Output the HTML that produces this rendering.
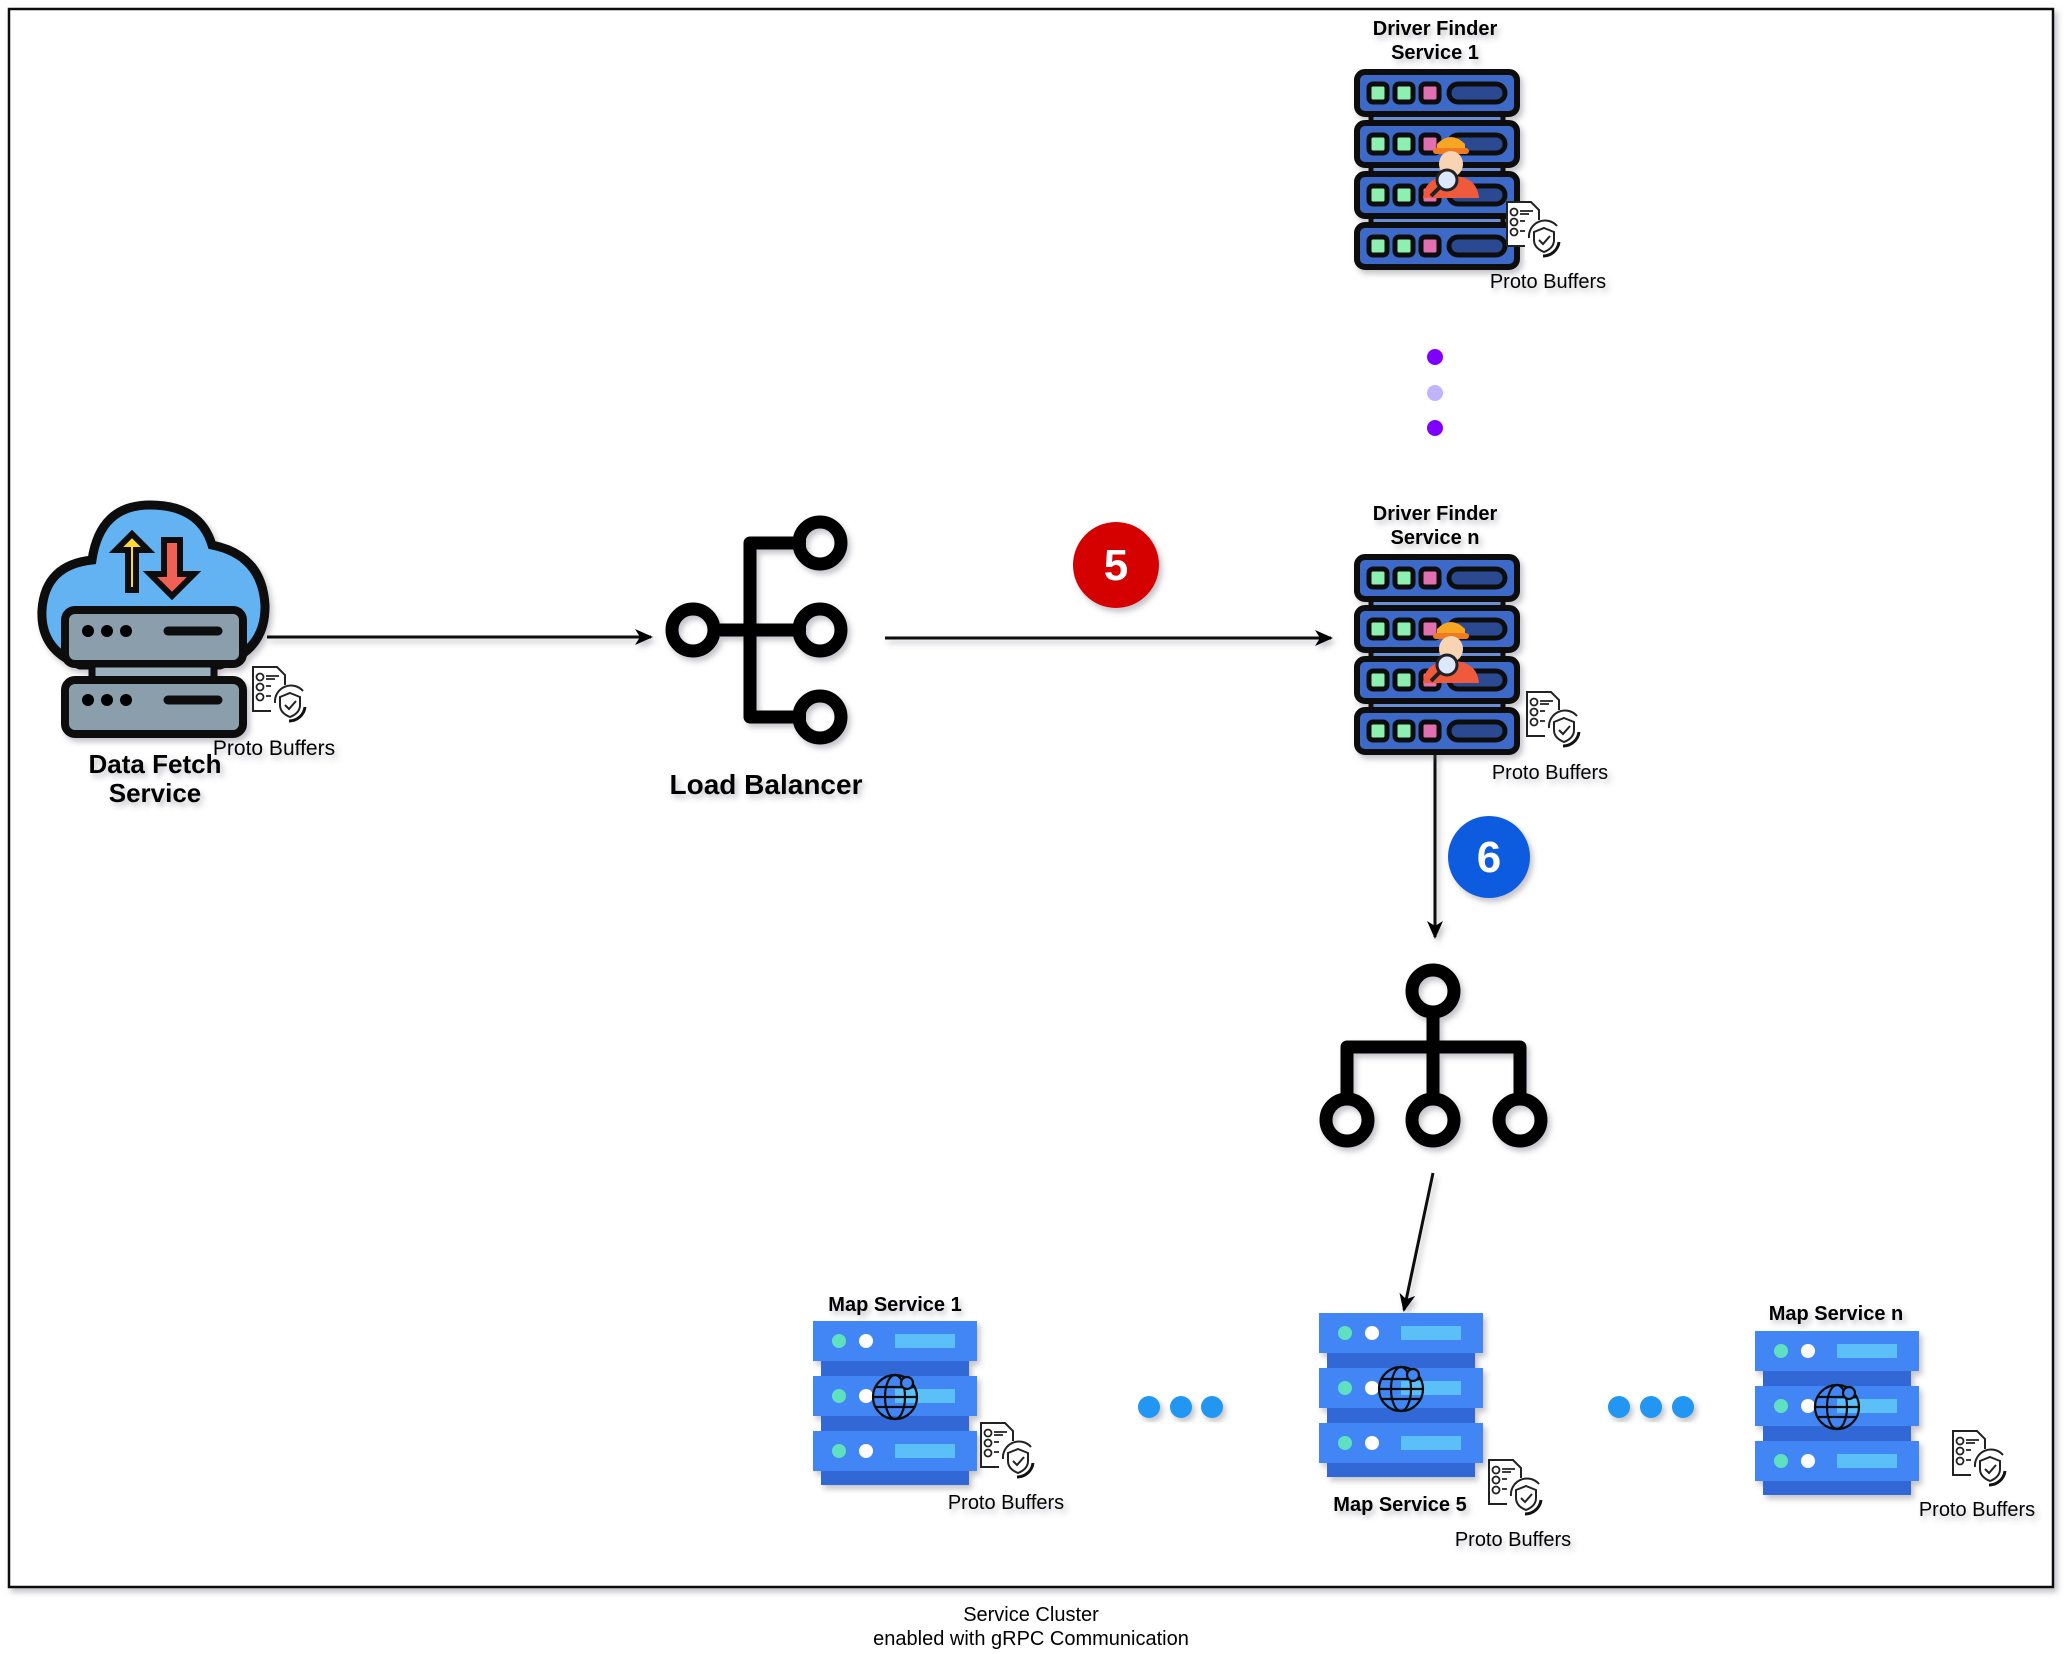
<!DOCTYPE html>
<html><head><meta charset="utf-8"><style>
html,body{margin:0;padding:0;background:#fff}
svg{display:block}
text{font-family:"Liberation Sans",sans-serif}
</style></head><body>
<svg width="2066" height="1654" viewBox="0 0 2066 1654" xmlns="http://www.w3.org/2000/svg">
<defs>
<filter id="sh" x="-20%" y="-20%" width="140%" height="140%"><feDropShadow dx="3" dy="4" stdDeviation="3" flood-color="#556" flood-opacity="0.35"/></filter>
<filter id="shl" filterUnits="userSpaceOnUse" x="0" y="0" width="2066" height="1654"><feDropShadow dx="3" dy="4" stdDeviation="3" flood-color="#556" flood-opacity="0.35"/></filter>
<marker id="ah" markerWidth="18" markerHeight="16" refX="16" refY="8" orient="auto" markerUnits="userSpaceOnUse"><path d="M0,0 L18,8 L0,16 L5,8 z" fill="#000"/></marker>
<g id="unit">
<rect x="0" y="0" width="160" height="42" rx="8" fill="#3d6ac9" stroke="#111" stroke-width="6"/>
<rect x="12" y="12" width="18" height="18" rx="4" fill="#8ef0b0" stroke="#111" stroke-width="5"/>
<rect x="38" y="12" width="18" height="18" rx="4" fill="#8ef0b0" stroke="#111" stroke-width="5"/>
<rect x="64" y="12" width="18" height="18" rx="4" fill="#e070b0" stroke="#111" stroke-width="5"/>
<rect x="92" y="12" width="56" height="18" rx="9" fill="#2a4a90" stroke="#111" stroke-width="5"/>
</g>
<g id="dserver">
<rect x="14" y="40" width="132" height="120" fill="#6a8fd8" stroke="#111" stroke-width="5"/>
<use href="#unit" x="0" y="0"/><use href="#unit" x="0" y="51"/><use href="#unit" x="0" y="102"/><use href="#unit" x="0" y="153"/>
<g transform="translate(62,64)">
<path d="M18,8 Q32,-6 46,8 L46,16 L18,16 z" fill="#f6a623"/>
<rect x="14" y="12" width="36" height="6" rx="3" fill="#f07a20"/>
<ellipse cx="32" cy="28" rx="12" ry="13" fill="#f8d4b4"/>
<path d="M4,62 Q6,40 32,40 Q58,40 60,62 z" fill="#ef5a3c"/>
<circle cx="28" cy="44" r="10" fill="#dbe8ff" stroke="#222" stroke-width="3"/>
<line x1="21" y1="51" x2="12" y2="60" stroke="#222" stroke-width="4"/>
</g>
</g>
<g id="munit">
<rect x="0" y="0" width="164" height="40" fill="#4285f4"/>
<circle cx="26" cy="20" r="7" fill="#5ee0c0"/>
<circle cx="53" cy="20" r="7" fill="#fff"/>
<rect x="82" y="13" width="60" height="14" fill="#5bc0f8"/>
</g>
<g id="mserver" filter="url(#sh)">
<rect x="8" y="36" width="148" height="128" fill="#3367d6"/>
<use href="#munit" y="0"/><use href="#munit" y="55"/><use href="#munit" y="110"/>
<g transform="translate(82,76)" fill="none" stroke="#111" stroke-width="2.2">
<circle r="22"/><ellipse rx="10" ry="22"/><line x1="-22" y1="0" x2="22" y2="0"/>
<path d="M-19,-10 H19 M-19,10 H19"/><circle cx="12" cy="-14" r="6" fill="#4285f4"/>
</g>
</g>
<g id="proto">
<path d="M0,0 H24 L32,8 V44 H0 z" fill="#fff" stroke="#222" stroke-width="2"/>
<g fill="none" stroke="#222" stroke-width="1.8">
<circle cx="7" cy="10" r="3.5"/><circle cx="7" cy="20" r="3.5"/><circle cx="7" cy="30" r="3.5"/>
<path d="M13,9 H26 M13,12 H22 M13,19 H26 M13,29 H22"/>
</g>
<rect x="18" y="18" width="38" height="40" fill="#fff"/>
<path d="M22,36 A16,16 0 0 1 50,24" fill="none" stroke="#222" stroke-width="2"/>
<path d="M52,40 A16,16 0 0 1 36,54" fill="none" stroke="#111" stroke-width="3"/>
<path d="M37,26 L47,30 V38 Q47,46 37,50 Q27,46 27,38 V30 z" fill="#fff" stroke="#222" stroke-width="2"/>
<path d="M32,38 L36,42 L43,34" fill="none" stroke="#222" stroke-width="2"/>
</g>
</defs>

<rect x="9" y="9" width="2044" height="1578" fill="#fff" stroke="#111" stroke-width="2.5" filter="url(#sh)"/>

<g filter="url(#sh)">
<path d="M80,665 Q40,650 42,610 Q45,565 92,560 Q100,505 150,505 Q200,505 212,545 Q262,555 265,605 Q266,650 220,665 z" fill="#63b3f3" stroke="#111" stroke-width="9"/>
<path d="M128,590 V550 H116 L132,534 L148,550 H136 V590 z" fill="#fdd835" stroke="#111" stroke-width="6"/>
<path d="M164,540 H180 V574 H194 L172,596 L150,574 H164 z" fill="#f06055" stroke="#111" stroke-width="6"/>
<rect x="65" y="610" width="178" height="54" rx="10" fill="#8a9eac" stroke="#111" stroke-width="8"/>
<rect x="92" y="664" width="122" height="30" fill="#9bb0bd" stroke="#111" stroke-width="7"/>
<rect x="65" y="680" width="178" height="54" rx="10" fill="#8a9eac" stroke="#111" stroke-width="8"/>
<circle cx="88" cy="631" r="6"/><circle cx="107" cy="631" r="6"/><circle cx="126" cy="631" r="6"/>
<line x1="168" y1="631" x2="218" y2="631" stroke="#111" stroke-width="9" stroke-linecap="round"/>
<circle cx="88" cy="700" r="6"/><circle cx="107" cy="700" r="6"/><circle cx="126" cy="700" r="6"/>
<line x1="168" y1="700" x2="218" y2="700" stroke="#111" stroke-width="9" stroke-linecap="round"/>
</g>
<use href="#proto" x="253" y="667"/>
<g filter="url(#sh)">
<text x="155" y="773" text-anchor="middle" font-size="26" font-weight="bold">Data Fetch</text>
<text x="155" y="802" text-anchor="middle" font-size="26" font-weight="bold">Service</text>
<text x="274" y="755" text-anchor="middle" font-size="21">Proto Buffers</text>
</g>

<g filter="url(#shl)" stroke="#111" stroke-width="3" fill="none">
<line x1="267" y1="637" x2="651" y2="637" marker-end="url(#ah)"/>
<line x1="885" y1="638" x2="1331" y2="638" marker-end="url(#ah)"/>
<line x1="1435" y1="753" x2="1435" y2="937" marker-end="url(#ah)"/>
<line x1="1433" y1="1173" x2="1404" y2="1310" marker-end="url(#ah)"/>
</g>

<g fill="none" stroke="#000" stroke-width="13" filter="url(#sh)" stroke-linejoin="round">
<path d="M806,543 H750 V717 H806 M720,630 H806"/>
<circle cx="693" cy="630" r="21"/>
<circle cx="820" cy="543" r="21"/>
<circle cx="820" cy="630" r="21"/>
<circle cx="820" cy="717" r="21"/>
</g>
<text x="766" y="794" text-anchor="middle" font-size="28" font-weight="bold" font-family="'DejaVu Sans',sans-serif" filter="url(#sh)">Load Balancer</text>

<g filter="url(#sh)">
<circle cx="1116" cy="565" r="43" fill="#d50000"/>
<text x="1116" y="580" text-anchor="middle" font-size="44" font-weight="bold" fill="#fff">5</text>
</g>

<g filter="url(#sh)">
<text x="1435" y="35" text-anchor="middle" font-size="20" font-weight="bold">Driver Finder</text>
<text x="1435" y="59" text-anchor="middle" font-size="20" font-weight="bold">Service 1</text>
</g>
<g filter="url(#sh)"><use href="#dserver" x="1357" y="72"/></g>
<use href="#proto" x="1507" y="202"/>
<text x="1548" y="288" text-anchor="middle" font-size="20" filter="url(#sh)">Proto Buffers</text>

<circle cx="1435" cy="357" r="8" fill="#7f00ff"/>
<circle cx="1435" cy="393" r="8" fill="#c2b3ff"/>
<circle cx="1435" cy="428" r="8" fill="#7f00ff"/>

<g filter="url(#sh)">
<text x="1435" y="520" text-anchor="middle" font-size="20" font-weight="bold">Driver Finder</text>
<text x="1435" y="544" text-anchor="middle" font-size="20" font-weight="bold">Service n</text>
</g>
<g filter="url(#sh)"><use href="#dserver" x="1357" y="557"/></g>
<use href="#proto" x="1527" y="692"/>
<text x="1550" y="779" text-anchor="middle" font-size="20" filter="url(#sh)">Proto Buffers</text>

<g filter="url(#sh)">
<circle cx="1489" cy="857" r="41" fill="#0a5ce0"/>
<text x="1489" y="872" text-anchor="middle" font-size="44" font-weight="bold" fill="#fff">6</text>
</g>

<g fill="none" stroke="#000" stroke-width="13" filter="url(#sh)" stroke-linejoin="round">
<path d="M1347,1104 V1047 H1520 V1104 M1433,1012 V1104"/>
<circle cx="1433" cy="991" r="21"/>
<circle cx="1347" cy="1120" r="21"/>
<circle cx="1433" cy="1120" r="21"/>
<circle cx="1520" cy="1120" r="21"/>
</g>

<text x="895" y="1311" text-anchor="middle" font-size="20" font-weight="bold" filter="url(#sh)">Map Service 1</text>
<use href="#mserver" x="813" y="1321"/>
<use href="#proto" x="981" y="1423"/>
<text x="1006" y="1509" text-anchor="middle" font-size="20" filter="url(#sh)">Proto Buffers</text>

<use href="#mserver" x="1319" y="1313"/>
<text x="1400" y="1511" text-anchor="middle" font-size="20" font-weight="bold" filter="url(#sh)">Map Service 5</text>
<use href="#proto" x="1489" y="1460"/>
<text x="1513" y="1546" text-anchor="middle" font-size="20" filter="url(#sh)">Proto Buffers</text>

<text x="1836" y="1320" text-anchor="middle" font-size="20" font-weight="bold" filter="url(#sh)">Map Service n</text>
<use href="#mserver" x="1755" y="1331"/>
<use href="#proto" x="1953" y="1431"/>
<text x="1977" y="1516" text-anchor="middle" font-size="20" filter="url(#sh)">Proto Buffers</text>

<g fill="#2196f3" filter="url(#sh)">
<circle cx="1149" cy="1407" r="11"/><circle cx="1181" cy="1407" r="11"/><circle cx="1212" cy="1407" r="11"/>
<circle cx="1619" cy="1407" r="11"/><circle cx="1651" cy="1407" r="11"/><circle cx="1683" cy="1407" r="11"/>
</g>

<text x="1031" y="1621" text-anchor="middle" font-size="20">Service Cluster</text>
<text x="1031" y="1645" text-anchor="middle" font-size="20">enabled with gRPC Communication</text>
</svg>
</body></html>
